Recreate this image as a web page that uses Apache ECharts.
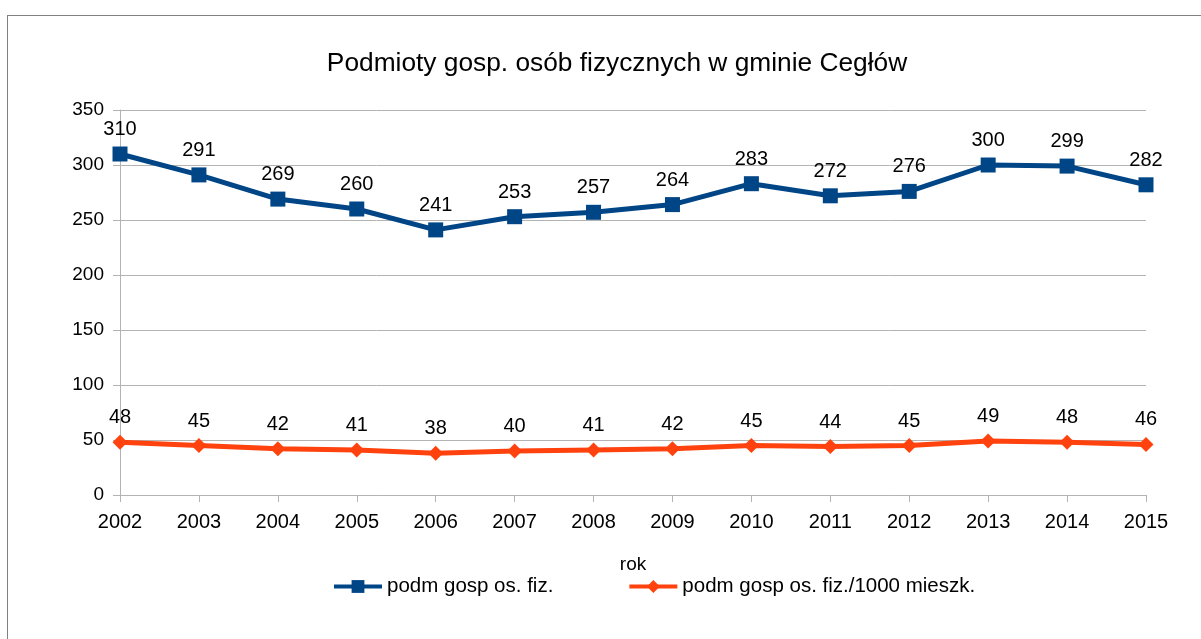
<!DOCTYPE html>
<html>
<head>
<meta charset="utf-8">
<script src="https://cdn.jsdelivr.net/npm/echarts@6/dist/echarts.min.js"></script>
<style>
  html, body { margin: 0; padding: 0; background: #fff; }
  #frame { position: absolute; left: 7px; top: 15px; width: 1210px; height: 640px; border: 1px solid #808080; box-sizing: border-box; }
  #chart { position: absolute; left: 0; top: 0; width: 1201px; height: 639px; }
</style>
</head>
<body>
<div id="frame"></div>
<div id="chart"></div>
<script>
const years = ['2002','2003','2004','2005','2006','2007','2008','2009','2010','2011','2012','2013','2014','2015'];
const firms = [310, 291, 269, 260, 241, 253, 257, 264, 283, 272, 276, 300, 299, 282];
const firmsPer1000 = [48, 45, 42, 41, 38, 40, 41, 42, 45, 44, 45, 49, 48, 46];
const seriesNames = ['podm gosp os. fiz.', 'podm gosp os. fiz./1000 mieszk.'];

const font = 'Liberation Sans, Arial, sans-serif';
const chart = echarts.init(document.getElementById('chart'), null, { renderer: 'canvas' });

chart.setOption({
  animation: false,
  backgroundColor: 'transparent',
  title: {
    text: 'Podmioty gosp. osób fizycznych w gminie Cegłów',
    left: 612, top: 46, textAlign: 'center',
    textStyle: { fontFamily: font, fontSize: 26.3, fontWeight: 'normal', color: '#000' }
  },
  legend: {
    top: 576, left: 332, padding: 0, itemGap: 74, itemWidth: 48, itemHeight: 16,
    lineStyle: { width: 4 },
    textStyle: { fontFamily: font, fontSize: 20.5, color: '#000' },
    data: seriesNames
  },
  grid: { left: 120, right: 55, top: 110, bottom: 144 },
  xAxis: {
    type: 'category', data: years, boundaryGap: false,
    name: 'rok', nameLocation: 'middle', nameGap: 60,
    nameTextStyle: { fontFamily: font, fontSize: 19, color: '#000' },
    axisLine: { lineStyle: { color: '#b3b3b3', width: 1 } },
    axisTick: { show: true, length: 7, lineStyle: { color: '#b3b3b3' } },
    axisLabel: { fontFamily: font, fontSize: 20, color: '#000', margin: 17 },
    splitLine: { show: false }
  },
  yAxis: {
    type: 'value', min: 0, max: 350, interval: 50,
    axisLine: { show: true, lineStyle: { color: '#b3b3b3', width: 1 } },
    axisTick: { show: true, length: 7, lineStyle: { color: '#b3b3b3' } },
    axisLabel: { fontFamily: font, fontSize: 19, color: '#000', margin: 16 },
    splitLine: { show: true, lineStyle: { color: '#b3b3b3', width: 1 } }
  },
  series: [
    {
      name: seriesNames[0], type: 'line', data: firms,
      symbol: 'rect', symbolSize: 15,
      lineStyle: { color: '#004586', width: 5 },
      itemStyle: { color: '#004586' },
      label: { show: true, position: 'top', distance: 7, fontFamily: font, fontSize: 20, color: '#000' }
    },
    {
      name: seriesNames[1], type: 'line', data: firmsPer1000,
      symbol: 'diamond', symbolSize: 15,
      lineStyle: { color: '#ff420e', width: 5 },
      itemStyle: { color: '#ff420e' },
      label: { show: true, position: 'top', distance: 7, fontFamily: font, fontSize: 20, color: '#000' }
    }
  ]
});
</script>
</body>
</html>
